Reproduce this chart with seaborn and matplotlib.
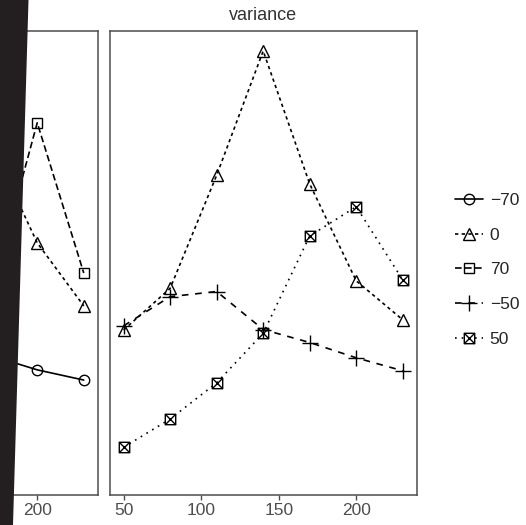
import matplotlib
matplotlib.use('Agg')
import matplotlib.pyplot as plt
from matplotlib.lines import Line2D
from matplotlib.path import Path
from matplotlib.patches import Polygon
import pandas as pd
import seaborn as sns

sns.set_style('white')
plt.rcParams['font.family'] = ['Liberation Sans', 'DejaVu Sans']

# x positions shared by both facets
x_vals = [50, 80, 110, 140, 170, 200, 230]
groups = ['\u221270', '0', '70', '\u221250', '50']

# left facet: only its right end is inside the frame
left_x = [170, 200, 230]
left_m70 = [30.1, 27.0, 24.8]
left_0 = [75.9, 54.4, 40.8]
left_70 = [43.2, 80.3, 47.9]

# "variance" facet
var_0 = [35.6, 44.6, 69.0, 95.8, 67.1, 46.2, 37.8]
var_m50 = [36.5, 42.8, 43.9, 35.7, 32.9, 29.6, 26.8]
var_50 = [10.3, 16.4, 24.2, 34.9, 55.9, 62.2, 46.4]

# square with a cross in it (ggplot shape 7)
boxx = Path([(-1, -1), (1, -1), (1, 1), (-1, 1), (-1, -1),
             (-1, -1), (1, 1), (-1, 1), (1, -1)],
            [Path.MOVETO, Path.LINETO, Path.LINETO, Path.LINETO, Path.CLOSEPOLY,
             Path.MOVETO, Path.LINETO, Path.MOVETO, Path.LINETO])

styles = {
    '\u221270': dict(marker='o', ms=7.5, ls='-'),
    '0': dict(marker='^', ms=8.5, ls=(0, (2, 2))),
    '70': dict(marker='s', ms=7, ls=(0, (4, 2))),
    '\u221250': dict(marker='+', ms=12, ls=(0, (4, 4))),
    '50': dict(marker=boxx, ms=7.5, ls=(0, (1, 3))),
}

df_left = pd.concat([
    pd.DataFrame({'x': left_x, 'y': left_m70, 'group': '\u221270'}),
    pd.DataFrame({'x': left_x, 'y': left_0, 'group': '0'}),
    pd.DataFrame({'x': left_x, 'y': left_70, 'group': '70'}),
])
df_var = pd.concat([
    pd.DataFrame({'x': x_vals, 'y': var_0, 'group': '0'}),
    pd.DataFrame({'x': x_vals, 'y': var_m50, 'group': '\u221250'}),
    pd.DataFrame({'x': x_vals, 'y': var_50, 'group': '50'}),
])

W, H = 526, 525
fig = plt.figure(figsize=(W / 100, H / 100), dpi=100)
top, bottom = 31.5, 495
ax_l = fig.add_axes([-209.3 / W, 1 - bottom / H, 307 / W, (bottom - top) / H])
ax_r = fig.add_axes([109.7 / W, 1 - bottom / H, 307 / W, (bottom - top) / H])

for ax, df in [(ax_l, df_left), (ax_r, df_var)]:
    for g, sub in df.groupby('group', sort=False):
        st = styles[g]
        sns.lineplot(data=sub, x='x', y='y', ax=ax, color='black', errorbar=None,
                     marker=st['marker'], markersize=st['ms'], linestyle=st['ls'],
                     linewidth=1.2, markerfacecolor='none', markeredgecolor='black',
                     markeredgewidth=1.0, legend=False)
    ax.set_xlim(41, 239)
    ax.set_ylim(0, 100)
    ax.set_yticks([])
    ax.set_xlabel('')
    ax.set_ylabel('')
    ax.tick_params(axis='x', length=3.5, width=1.0, color='#4d4d4d', pad=2,
                   labelsize=12.5, labelcolor='#4d4d4d', bottom=True)
    for s in ax.spines.values():
        s.set_visible(True)
        s.set_color('#4d4d4d')
        s.set_linewidth(1.1)

# the other ticks of the left facet fall outside the picture
ax_l.set_xticks([200])
ax_r.set_xticks([50, 100, 150, 200])

fig.text(263 / W, 1 - 20 / H, 'variance', ha='center', va='baseline',
         fontsize=13, color='#333333')

handles = [Line2D([], [], color='black', lw=1.2, linestyle=styles[g]['ls'],
                  marker=styles[g]['marker'], markersize=styles[g]['ms'],
                  markerfacecolor='none', markeredgecolor='black', markeredgewidth=1.0)
           for g in groups]
fig.legend(handles, groups, loc='center left', bbox_to_anchor=(455 / W, 1 - 269.8 / H),
           frameon=False, fontsize=12.5, handlelength=1.6, handletextpad=0.4,
           labelspacing=1.13, borderpad=0, borderaxespad=0)

# dark wedge covering the left edge of the picture
fig.add_artist(Polygon([[0, 1], [28.5 / W, 1], [13 / W, 0], [0, 0]], closed=True,
                       transform=fig.transFigure, facecolor='#231f20',
                       edgecolor='none', zorder=10))

fig.savefig('out.png', dpi=100)
